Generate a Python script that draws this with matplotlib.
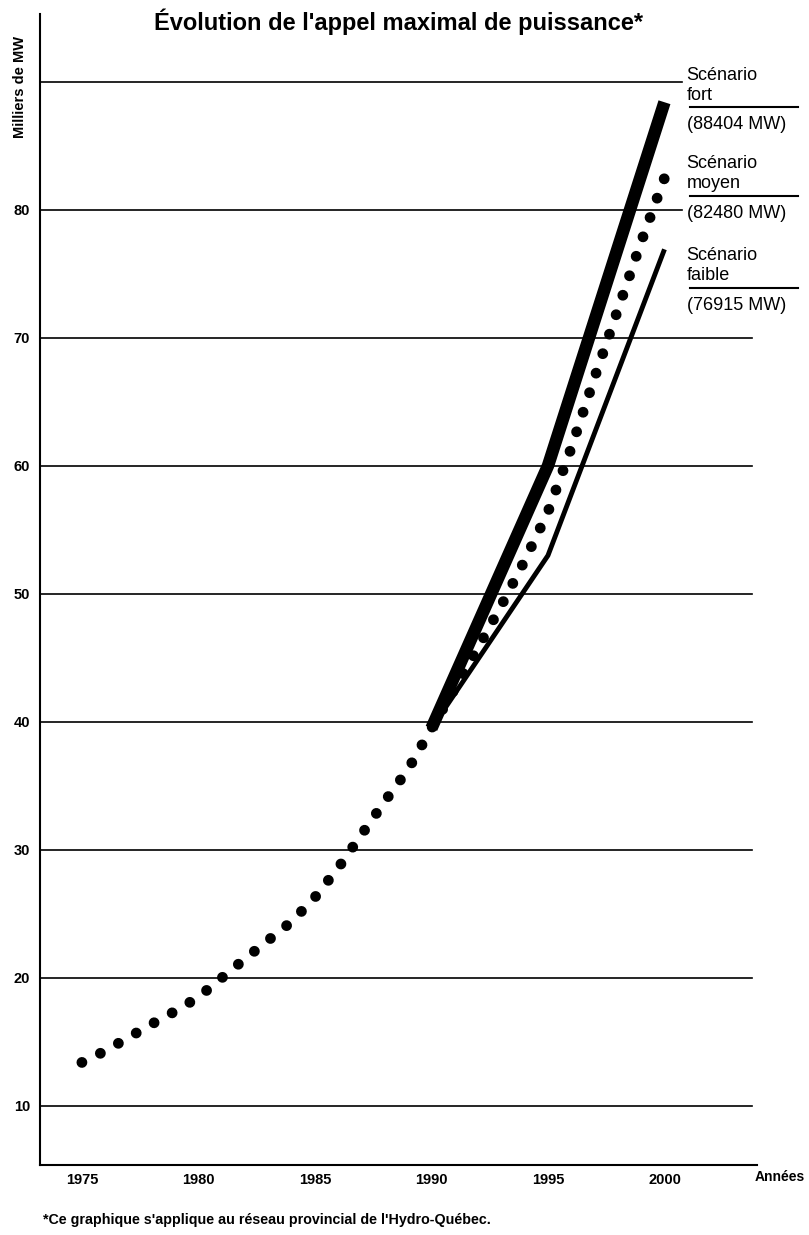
import matplotlib
matplotlib.use("Agg")
import matplotlib.pyplot as plt

plt.rcParams["font.family"] = ["Liberation Sans", "DejaVu Sans"]

# historical peak demand (thousands of MW)
hist_years = [1975, 1976, 1977, 1978, 1979, 1980, 1981, 1982, 1983, 1984,
              1985, 1986, 1987, 1988, 1989, 1990]
hist_vals = [13.4, 14.3, 15.35, 16.4, 17.4, 18.5, 20.0, 21.5, 22.95, 24.4,
             26.3, 28.6, 31.2, 33.8, 36.3, 39.5]

# forecast scenarios
moyen_years = [1991, 1992, 1993, 1994, 1995, 1996, 1997, 1998, 1999, 2000]
moyen_vals = [42.6, 45.8, 49.1, 52.6, 56.4, 61.4, 66.9, 72.2, 77.5, 82.48]
fort_years = [1990, 1995, 2000]
fort_vals = [39.5, 60.0, 88.404]
faible_years = [1990, 1995, 2000]
faible_vals = [39.5, 53.0, 76.915]

grid_vals = [10, 20, 30, 40, 50, 60, 70, 80, 90]
ytick_vals = [10, 20, 30, 40, 50, 60, 70, 80]
xtick_vals = [1975, 1980, 1985, 1990, 1995, 2000]

fig = plt.figure(figsize=(8.09, 12.35), dpi=100)
ax = fig.add_axes([0.0494, 0.0567, 0.8863, 0.932])
ax.set_xlim(1973.2, 2003.97)
ax.set_ylim(5.39, 95.3)

# horizontal rules; the two top ones stop where the scenario labels begin
grid_ends = [2003.75 if v < 80 else 2000.75 for v in grid_vals]
for v, xe in zip(grid_vals, grid_ends):
    ax.plot([1973.2, xe], [v, v], color="black", lw=1.2, zorder=1)

# dotted curve: history followed by the medium scenario
ax.plot(hist_years + moyen_years, hist_vals + moyen_vals,
        color="black", lw=7.8, linestyle=(0, (0.001, 1.9)),
        dash_capstyle="round", zorder=3)
ax.plot(fort_years, fort_vals, color="black", lw=9, solid_capstyle="butt",
        solid_joinstyle="round", zorder=2)
ax.plot(faible_years, faible_vals, color="black", lw=3.5, solid_capstyle="butt",
        zorder=2)

# scenario labels on the right
labels = [
    ("Scénario\nfort", "(88404 MW)", 88.0),
    ("Scénario\nmoyen", "(82480 MW)", 81.1),
    ("Scénario\nfaible", "(76915 MW)", 73.9),
]
for head, value, yline in labels:
    ax.text(2000.95, yline + 0.3, head, fontsize=13, ha="left", va="bottom",
            linespacing=1.2, clip_on=False)
    ax.plot([2001.1, 2005.75], [yline, yline], color="black", lw=1.5,
            clip_on=False)
    ax.text(2000.95, yline - 0.7, value, fontsize=13, ha="left", va="top",
            clip_on=False)

for side in ["top", "right"]:
    ax.spines[side].set_visible(False)
for side in ["left", "bottom"]:
    ax.spines[side].set_linewidth(1.5)

ax.set_yticks(ytick_vals)
ax.set_yticklabels([str(v) for v in ytick_vals], fontsize=10.5, fontweight="bold")
ax.set_xticks(xtick_vals)
ax.set_xticklabels([str(v) for v in xtick_vals], fontsize=10.5, fontweight="bold")
ax.tick_params(axis="y", length=0, pad=7)
ax.tick_params(axis="x", length=0, pad=6)

fig.text(398 / 809, 1 - 22 / 1235, "Évolution de l'appel maximal de puissance*",
         fontsize=17, fontweight="bold", ha="center", va="center")
fig.text(20 / 809, 1 - 87 / 1235, "Milliers de MW", rotation=90,
         fontsize=10.5, fontweight="bold", ha="center", va="center")
fig.text(755 / 809, 1 - 1177 / 1235, "Années", fontsize=10, fontweight="bold",
         ha="left", va="center")
fig.text(43 / 809, 1 - 1220 / 1235,
         "*Ce graphique s'applique au réseau provincial de l'Hydro-Québec.",
         fontsize=10.3, fontweight="bold", ha="left", va="center")

fig.savefig("out.png", dpi=100)
